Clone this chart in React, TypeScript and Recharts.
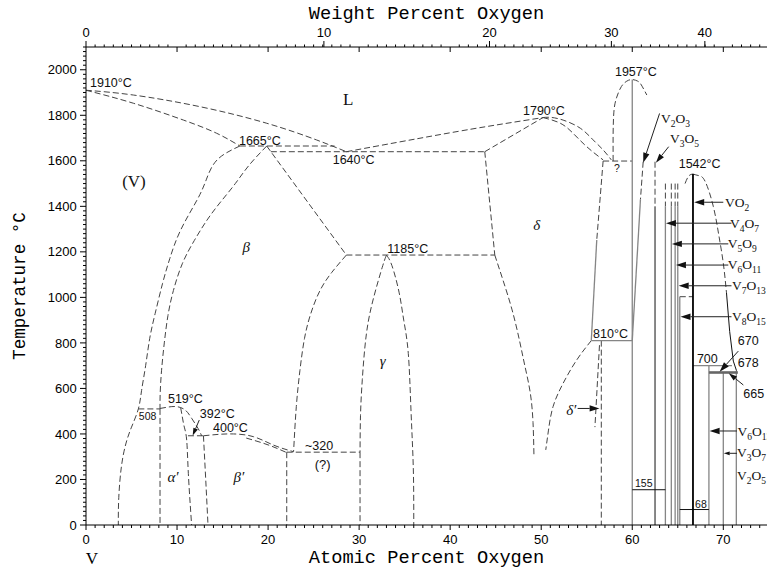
import React from "react";
import { ComposedChart, Line, XAxis, YAxis, ReferenceDot, ReferenceLine } from "recharts";

type Pt = [number, number]; // [atomic % O, temperature °C]

// ---- liquid / V-rich side ----
const liquidusV: Pt[] = [[0, 1910], [5.2, 1889], [12.5, 1838], [19.85, 1765], [25.3, 1692], [28.6, 1640]];
const solidusV: Pt[] = [[0, 1910], [5.2, 1853], [10.7, 1779], [14.35, 1721], [16.9, 1665]];
const line1665: Pt[] = [[16.9, 1665], [27.3, 1665]];
const line1640: Pt[] = [[20.3, 1640], [43.8, 1640]];
const alphaSolvus: Pt[] = [[16.9, 1665], [14.4, 1604], [13.2, 1516], [12.2, 1428], [10.4, 1296], [9.2, 1170], [8.4, 1060], [7.6, 930], [7.0, 820], [6.55, 700], [6.1, 590], [5.75, 510], [5.0, 430], [4.4, 360], [3.9, 260], [3.6, 120], [3.55, 0]];
const betaLeft: Pt[] = [[19.85, 1665], [17.9, 1580], [16.4, 1500], [14.8, 1420], [13.3, 1340], [11.9, 1250], [10.6, 1150], [9.6, 1030], [9.0, 920], [8.6, 800], [8.3, 680], [8.15, 580], [8.13, 510]];
const betaRight: Pt[] = [[19.85, 1665], [28.6, 1186]];
const line1185: Pt[] = [[28.6, 1186], [44.9, 1186]];
const gammaLeft: Pt[] = [[28.6, 1186], [27.0, 1110], [25.7, 1030], [24.7, 930], [24.0, 820], [23.5, 680], [23.1, 520], [22.8, 322]];
const gammaDomeL: Pt[] = [[33.0, 1185], [32.6, 1140], [31.6, 1000], [30.8, 840], [30.35, 640], [30.15, 480], [30.1, 320]];
const gammaDomeR: Pt[] = [[33.0, 1185], [33.6, 1140], [34.4, 1020], [34.9, 900], [35.4, 754], [35.7, 500], [35.95, 250], [36.0, 0]];
const line320: Pt[] = [[22.05, 320], [30.1, 320]];
const vert320L: Pt[] = [[22.05, 320], [22.05, 0]];
const vert320R: Pt[] = [[30.1, 320], [30.1, 0]];

// ---- low temperature alpha' / beta' ----
const line508: Pt[] = [[5.75, 510], [8.13, 510]];
const alphaPrimeLeft: Pt[] = [[8.13, 510], [8.13, 0]];
const alphaPrimeDome: Pt[] = [[8.13, 512], [9.0, 518], [9.96, 520], [10.9, 505], [11.6, 469], [12.3, 425], [12.7, 392]];
const alphaPrimeRight: Pt[] = [[10.4, 515], [10.6, 470], [10.8, 430], [11.06, 373], [11.24, 227], [11.6, 0]];
const line392: Pt[] = [[11.2, 392], [12.9, 392]];
const betaPrimeLeft: Pt[] = [[12.9, 392], [13.15, 200], [13.4, 0]];
const dome400a: Pt[] = [[12.9, 392], [14.5, 398], [16.2, 400], [18.4, 388], [20.6, 351], [22.8, 322]];
const dome400b: Pt[] = [[17.6, 382], [20.0, 352], [22.05, 318]];

// ---- delta phase ----
const liquidusMid: Pt[] = [[28.6, 1640], [39, 1716], [45, 1757], [50.2, 1790]];
const deltaSolidusL: Pt[] = [[43.8, 1640], [50.2, 1790]];
const deltaLeftUpper: Pt[] = [[43.8, 1640], [44.9, 1186]];
const deltaLeftLower: Pt[] = [[44.9, 1186], [45.8, 1076], [46.8, 945], [47.6, 813], [48.2, 700], [48.8, 580], [49.1, 450], [49.2, 308]];
const liquidusRight: Pt[] = [[50.2, 1790], [51.0, 1791], [52.4, 1779], [54.3, 1743], [55.7, 1692], [56.8, 1648], [57.7, 1604]];
const deltaSolidusR: Pt[] = [[50.2, 1790], [52.1, 1765], [53.5, 1721], [55.0, 1662], [56.8, 1604]];
const line1600: Pt[] = [[56.8, 1599], [60.0, 1599]];
const deltaRightDashed: Pt[] = [[56.8, 1599], [56.1, 1252]];
const deltaRightSolid: Pt[] = [[56.1, 1252], [55.5, 810]];
const line810: Pt[] = [[55.5, 810], [60, 810]];
const deltaPrimeCurve: Pt[] = [[55.5, 810], [53.9, 725], [52.4, 622], [51.3, 520], [50.8, 417], [50.5, 330]];
const deltaPrimeR: Pt[] = [[56.6, 810], [56.6, 0]];
const deltaPrimeL: Pt[] = [[56.4, 790], [55.9, 430]];

// ---- oxides ----
const v2o3Dome: Pt[] = [[57.9, 1599], [57.9, 1721], [58.0, 1823], [58.3, 1880], [58.8, 1926], [59.4, 1950], [60.0, 1957], [60.6, 1950], [61.0, 1933], [61.6, 1889]];
const v2o3: Pt[] = [[60, 0], [60, 1957]];
const v2o3RightDashed: Pt[] = [[61.2, 1596], [60.9, 1430]];
const v2o3RightSolid: Pt[] = [[60.9, 1430], [60.0, 810]];
const v3o5Top: Pt[] = [[62.5, 1596], [62.5, 1400]];
const v3o5: Pt[] = [[62.5, 1400], [62.5, 0]];
const v4o7Top: Pt[] = [[63.64, 1500], [63.64, 1400]];
const v5o9Top: Pt[] = [[64.29, 1500], [64.29, 1400]];
const v6o11Top: Pt[] = [[64.71, 1500], [64.71, 1400]];
const v7o13Top: Pt[] = [[65.0, 1500], [65.0, 1400]];
const v4o7: Pt[] = [[63.64, 1400], [63.64, 0]];
const v5o9: Pt[] = [[64.29, 1400], [64.29, 0]];
const v6o11: Pt[] = [[64.71, 1400], [64.71, 0]];
const v7o13: Pt[] = [[65.0, 1400], [65.0, 0]];
const v8o15: Pt[] = [[65.22, 1003], [65.22, 0]];
const line1000: Pt[] = [[65.22, 1003], [66.67, 1003]];
const vo2: Pt[] = [[66.67, 0], [66.67, 1542]];
const vo2DomeL: Pt[] = [[65.8, 1500], [66.2, 1533], [66.67, 1542]];
const vo2DomeR: Pt[] = [[66.67, 1542], [67.3, 1535], [68.0, 1510], [68.9, 1400], [69.5, 1275], [70.0, 1150], [70.35, 1020]];
const liquidusV2O5: Pt[] = [[70.35, 1020], [70.7, 850], [71.1, 720], [71.45, 678]];
const line155: Pt[] = [[60, 155], [63.64, 155]];
const line68: Pt[] = [[65.22, 68], [68.42, 68]];
const line700: Pt[] = [[66.67, 700], [70.95, 700]];
const v6o13: Pt[] = [[68.42, 0], [68.42, 700]];
const v3o7: Pt[] = [[70, 0], [70, 670]];
const v2o5: Pt[] = [[71.43, 0], [71.43, 678]];
const line670: Pt[] = [[68.42, 670], [71.6, 670]];

// arrows: [tail, tip]
const arrows: [Pt, Pt][] = [
  [[63.0, 1808], [61.2, 1592]],
  [[64.0, 1662], [62.6, 1592]],
  [[54.0, 512], [56.4, 512]],
  [[12.44, 461], [11.72, 393]],
  [[70.0, 1418], [66.8, 1418]],
  [[70.9, 1326], [63.7, 1326]],
  [[70.55, 1235], [64.35, 1235]],
  [[70.55, 1142], [64.8, 1142]],
  [[70.9, 1051], [65.1, 1051]],
  [[70.9, 915], [65.3, 915]],
  [[71.5, 413], [68.5, 413]],
  [[71.5, 315], [70.05, 315]],
  [[71.65, 764], [69.6, 673]],
  [[72.2, 615], [70.6, 667]],
];

// text annotations
const tempLabels = [
  { s: "1910°C", x: 0.44, t: 1924 }, { s: "1665°C", x: 16.8, t: 1670 }, { s: "1640°C", x: 27.1, t: 1586 },
  { s: "1790°C", x: 48.0, t: 1801 }, { s: "1957°C", x: 58.1, t: 1973 }, { s: "1542°C", x: 65.1, t: 1569 },
  { s: "1185°C", x: 33.1, t: 1195 }, { s: "519°C", x: 9.0, t: 536 }, { s: "392°C", x: 12.5, t: 470 },
  { s: "400°C", x: 13.95, t: 409 }, { s: "~320", x: 24.05, t: 330 }, { s: "810°C", x: 55.7, t: 822 },
  { s: "700", x: 67.1, t: 712 }, { s: "670", x: 71.6, t: 791 }, { s: "678", x: 71.6, t: 694 }, { s: "665", x: 72.2, t: 558 },
];
const smallLabels = [{ s: "508", x: 5.8, t: 461 }, { s: "155", x: 60.3, t: 167 }, { s: "68", x: 66.9, t: 75 }, { s: "?", x: 58.0, t: 1551 }];
const phaseLabels = [{ s: "L", x: 28.8, t: 1845 }, { s: "(V)", x: 5.27, t: 1485 }];
const greekLabels = [
  { s: "β", x: 17.6, t: 1199 }, { s: "δ", x: 49.5, t: 1296 }, { s: "γ", x: 32.6, t: 699 },
  { s: "α′", x: 9.56, t: 189 }, { s: "β′", x: 16.8, t: 189 }, { s: "δ′", x: 53.3, t: 483 },
];
const chemLabels = [
  { s: "V2O3", x: 63.16, t: 1766 }, { s: "V3O5", x: 64.15, t: 1678 }, { s: "VO2", x: 70.2, t: 1397 },
  { s: "V4O7", x: 70.74, t: 1305 }, { s: "V5O9", x: 70.5, t: 1215 }, { s: "V6O11", x: 70.5, t: 1125 },
  { s: "V7O13", x: 70.95, t: 1032 }, { s: "V8O15", x: 70.95, t: 896 }, { s: "V6O13", x: 71.55, t: 391 },
  { s: "V3O7", x: 71.5, t: 299 }, { s: "V2O5", x: 71.5, t: 198 },
];

// axes
const wtLabels = [0, 10, 20, 30, 40];
const atTicks = Array.from({ length: 75 }, (_, i) => i);
const tempTicks = Array.from({ length: 106 }, (_, i) => i * 20);

const SANS = "'Liberation Sans', Arial, sans-serif";
const SERIF = "'Liberation Serif', 'Times New Roman', serif";
const MONO = "'Liberation Mono', 'Courier New', monospace";

// weight % O -> atomic % O (V = 50.94, O = 16.00)
const wtToAt = (w: number) => ((w / 16) / (w / 16 + (100 - w) / 50.94)) * 100;
const wtPos = wtLabels.map(wtToAt);
const topTicks = [...atTicks.filter((v) => v > 0), ...wtPos].sort((a, b) => a - b);

const dashedCurves = [liquidusV, solidusV, alphaSolvus, betaLeft, gammaLeft, gammaDomeL, gammaDomeR, deltaLeftLower,
  liquidusMid, liquidusRight, deltaSolidusR, deltaPrimeCurve, v2o3Dome, vo2DomeL, vo2DomeR, alphaPrimeDome,
  alphaPrimeRight, betaPrimeLeft, dome400a, dome400b];
const dashedStraight = [line1665, line1640, betaRight, line1185, line320, vert320L, vert320R, deltaLeftUpper, deltaSolidusL,
  line1600, deltaRightDashed, deltaPrimeR, deltaPrimeL, v2o3RightDashed, v3o5Top, v4o7Top, v5o9Top, v6o11Top, v7o13Top,
  line1000, line508, alphaPrimeLeft, line392];
const grayLines = [v2o3, deltaRightSolid, line810, v2o3RightSolid, v4o7, v5o9, v6o11, v7o13, v8o15, v6o13, v3o7, v2o5, line700];
const blackLines = [v3o5, line155, line68, liquidusV2O5];

const toPts = (d: Pt[]) => d.map(([x, t]) => ({ x, t }));

const BottomTick = (p: any) => {
  const { x, y, payload } = p;
  const v = payload.value;
  const major = v % 10 === 0;
  return (
    <g>
      <line x1={x} x2={x} y1={y} y2={y + (major ? 5 : 3)} stroke="#000" />
      {major && (
        <text x={x} y={y + 18.5} textAnchor="middle" fontSize={13} fontFamily={SANS} fill="#000">{v}</text>
      )}
    </g>
  );
};

const TopTick = (p: any) => {
  const { x, y, payload } = p;
  const v = payload.value;
  const wi = wtPos.indexOf(v);
  if (wi >= 0) {
    return (
      <g>
        <line x1={x} x2={x} y1={y - 6} y2={y} stroke="#000" />
        <text x={x} y={y - 9.7} textAnchor="middle" fontSize={13} fontFamily={SANS} fill="#000">{wtLabels[wi]}</text>
      </g>
    );
  }
  if (v % 10 === 0) return <line x1={x} x2={x} y1={y} y2={y + 5} stroke="#000" />;
  return <line x1={x} x2={x} y1={y - 2.5} y2={y} stroke="#000" />;
};

const LeftTick = (p: any) => {
  const { x, y, payload } = p;
  const v = payload.value;
  const major = v % 200 === 0;
  return (
    <g>
      <line x1={x - (major ? 6 : 3)} x2={x} y1={y} y2={y} stroke="#000" />
      {major && (
        <text x={x - 9.3} y={y + 4.6} textAnchor="end" fontSize={13} fontFamily={SANS} fill="#000">{v}</text>
      )}
    </g>
  );
};

const Arrow = (p: any) => {
  const { x1, y1, x2, y2 } = p;
  const dx = x2 - x1;
  const dy = y2 - y1;
  const len = Math.hypot(dx, dy) || 1;
  const ux = dx / len;
  const uy = dy / len;
  const hl = Math.min(10, len * 0.45);
  const hw = hl * 0.32;
  const bx = x2 - ux * hl;
  const by = y2 - uy * hl;
  return (
    <g>
      <line x1={x1} y1={y1} x2={bx} y2={by} stroke="#222" strokeWidth={1} />
      <polygon points={`${x2},${y2} ${bx - uy * hw},${by + ux * hw} ${bx + uy * hw},${by - ux * hw}`} fill="#111" />
    </g>
  );
};

const chem = (s: string) => {
  const parts = s.match(/\d+|\D+/g) || [];
  let sub = false;
  return parts.map((part, i) => {
    const isNum = /^\d/.test(part);
    const dy = isNum ? (sub ? 0 : 4) : sub ? -4 : 0;
    sub = isNum;
    return (
      <tspan key={i} dy={dy} fontSize={isNum ? 9.5 : 13.5}>{part}</tspan>
    );
  });
};

const textDot = (key: string, x: number, t: number, render: (cx: number, cy: number) => React.ReactElement) => (
  <ReferenceDot key={key} xAxisId="b" yAxisId="l" x={x} y={t} r={0} ifOverflow="visible"
    shape={(p: any) => render(p.cx, p.cy)} />
);

export default function App() {
  return (
    <div style={{ width: 767, height: 571 }}>
      <style>{"body{margin:0;}"}</style>
      <ComposedChart width={767} height={571} margin={{ top: 0, right: 0, bottom: 0, left: 0 }}>
        <XAxis xAxisId="b" type="number" dataKey="x" domain={[0, 74.8]} allowDataOverflow ticks={atTicks} interval={0}
          tick={BottomTick} tickLine={false} tickSize={0} tickMargin={0} height={46} axisLine={{ stroke: "#000" }}
          label={{
            content: (p: any) => {
              const vb = p.viewBox;
              return (
                <g>
                  <text x={vb.x + 6} y={vb.y + 39} textAnchor="middle" fontSize={17} fontFamily={SERIF} fill="#000">V</text>
                  <text x={vb.x + vb.width / 2} y={vb.y + 38} textAnchor="middle" fontSize={18.7} fontFamily={MONO} fill="#000">Atomic Percent Oxygen</text>
                </g>
              );
            },
          }} />
        <XAxis xAxisId="t" orientation="top" type="number" dataKey="x" domain={[0, 74.8]} allowDataOverflow ticks={topTicks}
          interval={0} tick={TopTick} tickLine={false} tickSize={0} tickMargin={0} height={47} axisLine={{ stroke: "#000" }}
          label={{
            content: (p: any) => {
              const vb = p.viewBox;
              return (
                <text x={vb.x + vb.width / 2} y={vb.y + 19} textAnchor="middle" fontSize={18.7} fontFamily={MONO} fill="#000">Weight Percent Oxygen</text>
              );
            },
          }} />
        <YAxis yAxisId="l" type="number" domain={[0, 2100]} allowDataOverflow ticks={tempTicks} interval={0}
          tick={LeftTick} tickLine={false} tickSize={0} tickMargin={0} width={86} axisLine={{ stroke: "#000" }}
          label={{
            content: (p: any) => {
              const vb = p.viewBox;
              const cx = vb.x + 25;
              const cy = vb.y + vb.height / 2;
              return (
                <text x={cx} y={cy} transform={`rotate(-90 ${cx} ${cy})`} textAnchor="middle" fontSize={17.6} fontFamily={MONO} fill="#000">Temperature °C</text>
              );
            },
          }} />

        {dashedCurves.map((d, i) => (
          <Line key={"dc" + i} xAxisId="b" yAxisId="l" data={toPts(d)} dataKey="t" type="natural" stroke="#444"
            strokeWidth={1} strokeDasharray="6 3" dot={false} activeDot={false} isAnimationActive={false} />
        ))}
        {dashedStraight.map((d, i) => (
          <Line key={"ds" + i} xAxisId="b" yAxisId="l" data={toPts(d)} dataKey="t" type="linear" stroke="#444"
            strokeWidth={1} strokeDasharray="6 3" dot={false} activeDot={false} isAnimationActive={false} />
        ))}
        {grayLines.map((d, i) => (
          <Line key={"g" + i} xAxisId="b" yAxisId="l" data={toPts(d)} dataKey="t" type="linear" stroke="#858585"
            strokeWidth={1.3} dot={false} activeDot={false} isAnimationActive={false} />
        ))}
        {blackLines.map((d, i) => (
          <Line key={"k" + i} xAxisId="b" yAxisId="l" data={toPts(d)} dataKey="t" type="linear" stroke="#111"
            strokeWidth={1} dot={false} activeDot={false} isAnimationActive={false} />
        ))}
        <Line xAxisId="b" yAxisId="l" data={toPts(vo2)} dataKey="t" type="linear" stroke="#000" strokeWidth={1.8}
          dot={false} activeDot={false} isAnimationActive={false} />
        <Line xAxisId="b" yAxisId="l" data={toPts(line670)} dataKey="t" type="linear" stroke="#666" strokeWidth={2.6}
          dot={false} activeDot={false} isAnimationActive={false} />

        {arrows.map(([a, b], i) => (
          <ReferenceLine key={"ar" + i} xAxisId="b" yAxisId="l" ifOverflow="visible"
            segment={[{ x: a[0], y: a[1] }, { x: b[0], y: b[1] }]} shape={Arrow} />
        ))}

        {tempLabels.map((l, i) => textDot("tl" + i, l.x, l.t, (cx, cy) => (
          <text x={cx} y={cy} fontSize={12.5} fontFamily={SANS} fill="#111">{l.s}</text>
        )))}
        {smallLabels.map((l, i) => textDot("sl" + i, l.x, l.t, (cx, cy) => (
          <text x={cx} y={cy} fontSize={10.5} fontFamily={SANS} fill="#111">{l.s}</text>
        )))}
        {phaseLabels.map((l, i) => textDot("pl" + i, l.x, l.t, (cx, cy) => (
          <text x={cx} y={cy} textAnchor="middle" fontSize={17} fontFamily={SERIF} fill="#111">{l.s}</text>
        )))}
        {textDot("q", 26.0, 246, (cx, cy) => (
          <text x={cx} y={cy} textAnchor="middle" fontSize={13} fontFamily={SANS} fill="#111">(?)</text>
        ))}
        {greekLabels.map((l, i) => textDot("gl" + i, l.x, l.t, (cx, cy) => (
          <text x={cx} y={cy} textAnchor="middle" fontSize={15} fontStyle="italic" fontFamily={SERIF} fill="#111">{l.s}</text>
        )))}
        {chemLabels.map((l, i) => textDot("cl" + i, l.x, l.t, (cx, cy) => (
          <text x={cx} y={cy} fontSize={13.5} fontFamily={SERIF} fill="#111">{chem(l.s)}</text>
        )))}
      </ComposedChart>
    </div>
  );
}
